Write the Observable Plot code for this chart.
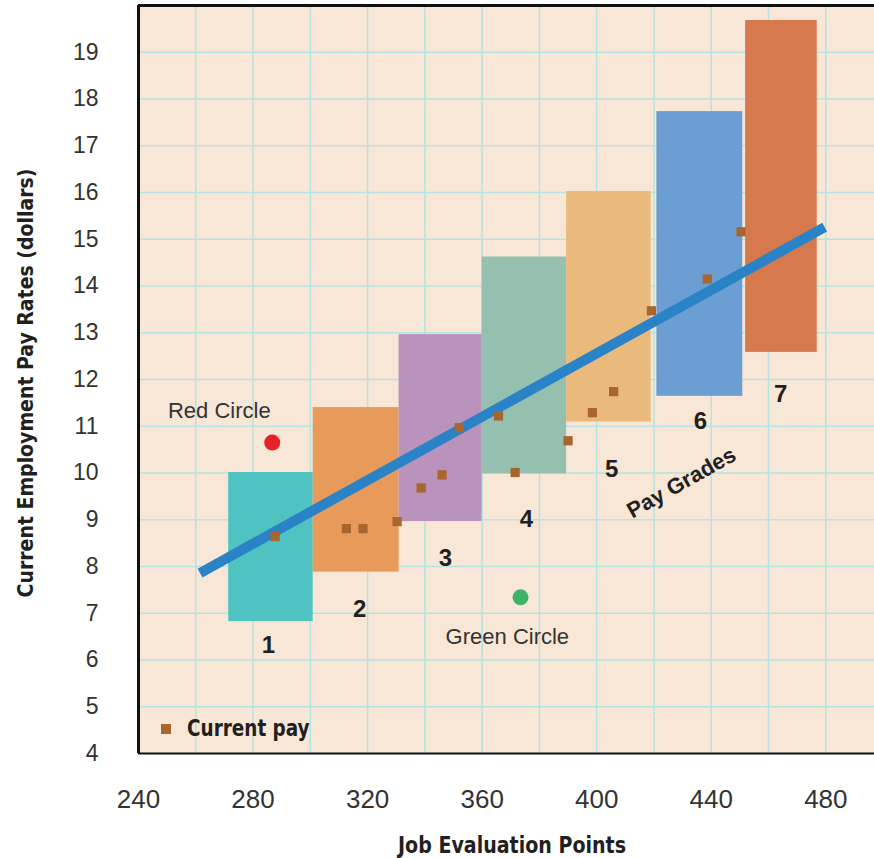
<!DOCTYPE html>
<html>
<head>
<meta charset="utf-8">
<script src="https://cdn.jsdelivr.net/npm/d3@7"></script>
<script src="https://cdn.jsdelivr.net/npm/@observablehq/plot@0.6"></script>
<style>
  html, body { margin: 0; padding: 0; background: #ffffff; }
  #wrap { position: relative; width: 874px; height: 858px; overflow: hidden; }
  #chart svg { display: block; }
  .ttl { position: absolute; white-space: nowrap; font-family: "Liberation Sans Narrow", "DejaVu Sans Condensed", "Liberation Sans", sans-serif; font-weight: bold; color: #231f20; line-height: 1; }
  #ytitle { left: 26px; top: 383px; font-size: 22px; transform: translate(-50%, -50%) rotate(-90deg) scaleX(0.955); }
  #xtitle { left: 512px; top: 845px; font-size: 23px; transform: translate(-50%, -50%) scaleX(0.92); }
  #legend { position: absolute; left: 161px; top: 717px; display: flex; align-items: center; font-family: "Liberation Sans Narrow", "DejaVu Sans Condensed", sans-serif; font-weight: bold; font-size: 23px; color: #231f20; line-height: 1; }
  #legend .sw { width: 10px; height: 10px; background: #a8652e; margin-right: 16px; }
  #legend .lt { transform-origin: left center; transform: scaleX(0.89); }
</style>
</head>
<body>
<div id="wrap">
  <div id="chart"></div>
  <div id="ytitle" class="ttl">Current Employment Pay Rates (dollars)</div>
  <div id="xtitle" class="ttl">Job Evaluation Points</div>
  <div id="legend"><div class="sw"></div><div class="lt">Current pay</div></div>
</div>
<script>
// ---- data ----
const grades      = ["1", "2", "3", "4", "5", "6", "7"];
const gradeMinPts = [271.5, 301, 331, 360, 389.5, 421, 452];
const gradeMaxPts = [301, 331, 360, 389.5, 419, 451, 477];
const gradeMinPay = [6.82, 7.88, 8.96, 9.98, 11.09, 11.64, 12.58];
const gradeMaxPay = [10.01, 11.40, 12.96, 14.62, 16.02, 17.73, 19.68];
const gradeColors = ["#4fc3c1", "#e89a5a", "#b993bc", "#95bfae", "#eaba7c", "#6b9fd4", "#d6794d"];
const gradeLabelPts = [285.4, 317.2, 347.2, 375.5, 405.2, 436.2, 464.2];
const gradeLabelPay = [6.31, 7.08, 8.17, 9.00, 10.07, 11.10, 11.68];

const payPoints = [287.7, 312.6, 318.4, 330.3, 338.7, 346.0, 352.0, 365.7, 371.5, 390.0, 398.5, 405.9, 419.1, 438.6, 450.4];
const payRates  = [8.64, 8.81, 8.81, 8.96, 9.68, 9.96, 10.97, 11.22, 10.01, 10.69, 11.29, 11.74, 13.47, 14.15, 15.16];

const trendPoints = [261.5, 479.6];
const trendPay    = [7.86, 15.26];

const circleNames  = ["Red Circle", "Green Circle"];
const circlePoints = [286.7, 373.4];
const circlePay    = [10.65, 7.34];
const circleColors = ["#e8202a", "#3eb267"];
const circleLabelPts = [268.2, 368.8];
const circleLabelPay = [11.32, 6.50];

const payGradesLabel = "Pay Grades";
const payGradesPts = 429.6;
const payGradesPay = 9.79;

const xTicks = [240, 280, 320, 360, 400, 440, 480];
const yTicks = [4, 5, 6, 7, 8, 9, 10, 11, 12, 13, 14, 15, 16, 17, 18, 19];
const xGrid = [260, 280, 300, 320, 340, 360, 380, 400, 420, 440, 460, 480];
const yGrid = [5, 6, 7, 8, 9, 10, 11, 12, 13, 14, 15, 16, 17, 18, 19];

// ---- tables ----
const gradeData = grades.map((g, i) => ({grade: g, x1: gradeMinPts[i], x2: gradeMaxPts[i], y1: gradeMinPay[i], y2: gradeMaxPay[i], color: gradeColors[i], lx: gradeLabelPts[i], ly: gradeLabelPay[i]}));
const payData = payPoints.map((p, i) => ({x: p, y: payRates[i]}));
const trendData = trendPoints.map((p, i) => ({x: p, y: trendPay[i]}));
const circleData = circleNames.map((n, i) => ({name: n, x: circlePoints[i], y: circlePay[i], color: circleColors[i], lx: circleLabelPts[i], ly: circleLabelPay[i]}));

const bodyFont = "'Liberation Sans', Arial, sans-serif";

const chart = Plot.plot({
  width: 874,
  height: 858,
  marginLeft: 138,
  marginRight: 0,
  marginTop: 5,
  marginBottom: 105,
  x: {domain: [240, 497]},
  y: {domain: [4, 20]},
  style: {fontFamily: bodyFont, background: "#ffffff", overflow: "visible"},
  marks: [
    Plot.frame({fill: "#f8e7d6", stroke: null}),
    Plot.gridX(xGrid, {stroke: "#b5e3e3", strokeOpacity: 1, strokeWidth: 1.5}),
    Plot.gridY(yGrid, {stroke: "#b5e3e3", strokeOpacity: 1, strokeWidth: 1.5}),
    Plot.rect(gradeData, {x1: "x1", x2: "x2", y1: "y1", y2: "y2", fill: "color"}),
    Plot.line(trendData, {x: "x", y: "y", stroke: "#2a82c7", strokeWidth: 10, strokeLinecap: "butt"}),
    Plot.dot(payData, {x: "x", y: "y", symbol: "square", r: 5.2, fill: "#a8652e", stroke: null}),
    Plot.dot(circleData, {x: "x", y: "y", r: 8, fill: "color", stroke: null}),
    Plot.text(circleData, {x: "lx", y: "ly", text: "name", fontSize: 22, fill: "#333333", letterSpacing: 0.6}),
    Plot.text(gradeData, {x: "lx", y: "ly", text: "grade", fontSize: 24, fontWeight: "bold", fill: "#231f20"}),
    Plot.text([payGradesLabel], {x: () => payGradesPts, y: () => payGradesPay, text: d => d, rotate: -29.5, fontSize: 22, fontWeight: "bold", fill: "#231f20"}),
    Plot.axisX({ticks: xTicks, tickSize: 0, tickPadding: 36, fontSize: 26, color: "#333333", label: null}),
    Plot.axisY({ticks: yTicks, tickSize: 0, tickPadding: 40, fontSize: 23, color: "#333333", label: null}),
    Plot.ruleX([240], {stroke: "#111111", strokeWidth: 3}),
    Plot.ruleY([20], {stroke: "#111111", strokeWidth: 3}),
    Plot.ruleY([4], {stroke: "#111111", strokeWidth: 2})
  ]
});
document.getElementById("chart").appendChild(chart);
</script>
</body>
</html>
